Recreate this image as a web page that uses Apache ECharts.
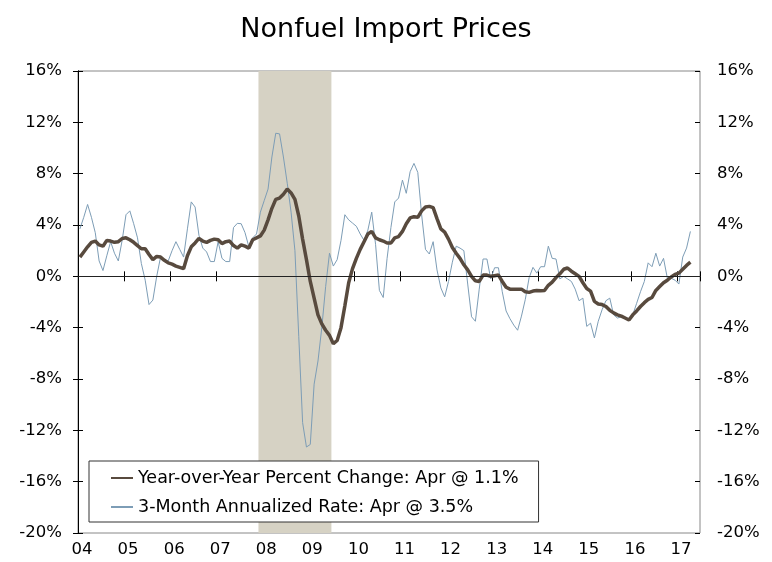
<!DOCTYPE html>
<html>
<head>
<meta charset="utf-8">
<title>Nonfuel Import Prices</title>
<script src="https://cdn.jsdelivr.net/npm/echarts@6/dist/echarts.min.js"></script>
<style>
  html, body { margin: 0; padding: 0; background: #fff; }
  #chart { width: 772px; height: 562px; }
</style>
</head>
<body>
<div id="chart"></div>
<script>
// monthly, Jan 2004 .. Apr 2017
const yoyChange = [
  1.5, 1.9, 2.3, 2.65, 2.75, 2.45, 2.35, 2.8, 2.75, 2.65, 2.7, 2.95,
  3.0, 2.85, 2.65, 2.4, 2.15, 2.15, 1.7, 1.3, 1.55, 1.5, 1.25, 1.05,
  0.95, 0.8, 0.7, 0.6, 1.6, 2.3, 2.6, 2.95, 2.75, 2.65, 2.8, 2.9,
  2.85, 2.55, 2.7, 2.75, 2.4, 2.2, 2.45, 2.35, 2.2, 2.85, 3.0, 3.15,
  3.6, 4.4, 5.3, 6.0, 6.1, 6.4, 6.8, 6.5, 6.0, 4.7, 2.9, 1.3,
  -0.4, -1.7, -3.0, -3.7, -4.2, -4.6, -5.25, -5.0, -4.0, -2.3, -0.5, 0.6,
  1.4, 2.1, 2.7, 3.3, 3.5, 3.0, 2.85, 2.75, 2.6, 2.6, 3.0, 3.1,
  3.5, 4.1, 4.55, 4.65, 4.6, 5.1, 5.4, 5.45, 5.35, 4.5, 3.7, 3.45,
  2.9, 2.25, 1.8, 1.4, 0.9, 0.5, 0.0, -0.35, -0.4, 0.1, 0.1, 0.0,
  0.05, 0.1, -0.4, -0.85, -1.0, -1.0, -1.0, -1.0, -1.2, -1.25, -1.15, -1.1,
  -1.12, -1.1, -0.7, -0.45, -0.1, 0.2, 0.55, 0.65, 0.4, 0.2, 0.0, -0.5,
  -0.95, -1.15, -1.95, -2.15, -2.2, -2.35, -2.65, -2.85, -3.0, -3.1, -3.25, -3.4,
  -3.0, -2.7, -2.35, -2.05, -1.8, -1.65, -1.1, -0.8, -0.5, -0.3, -0.05, 0.15,
  0.25, 0.55, 0.85, 1.1
];

const threeMonthRate = [
  3.7, 4.6, 5.6, 4.6, 3.4, 1.2, 0.45, 1.6, 2.7, 1.8, 1.2, 2.8,
  4.8, 5.1, 4.1, 3.0, 1.0, -0.3, -2.2, -1.85, 0.0, 1.5, 1.3, 1.2,
  2.0, 2.7, 2.1, 1.5, 3.7, 5.8, 5.4, 3.2, 2.2, 1.9, 1.15, 1.15,
  2.7, 1.4, 1.15, 1.15, 3.8, 4.13, 4.1, 3.4, 2.3, 3.0, 3.3, 5.0,
  5.9, 6.8, 9.3, 11.15, 11.1, 9.3, 7.25, 5.0, 2.0, -4.7, -11.4, -13.3,
  -13.1, -8.4, -6.6, -4.0, -0.8, 1.8, 0.8, 1.3, 2.8, 4.8, 4.4, 4.15,
  3.9, 3.3, 2.8, 3.6, 5.0, 2.5, -1.1, -1.65, 1.4, 3.8, 5.8, 6.1,
  7.5, 6.47, 8.15, 8.8, 8.1, 4.8, 2.1, 1.74, 2.7, 0.5, -0.9, -1.6,
  -0.4, 1.1, 2.35, 2.2, 2.0, -0.6, -3.15, -3.5, -1.0, 1.35, 1.35, -0.2,
  0.67, 0.67, -1.2, -2.7, -3.3, -3.8, -4.2, -3.1, -1.8, -0.1, 0.7, 0.25,
  0.75, 0.75, 2.35, 1.4, 1.35, -0.2, 0.0, -0.2, -0.4, -1.0, -1.9, -1.7,
  -3.9, -3.65, -4.8, -3.5, -2.6, -1.9, -1.7, -3.0, -3.25, -3.15, -3.2, -3.4,
  -3.0, -2.1, -1.2, -0.4, 1.05, 0.75, 1.8, 0.8, 1.4, -0.15, -0.15, -0.3,
  -0.6, 1.5, 2.2, 3.5
];

const yearLabels = ["04", "05", "06", "07", "08", "09", "10", "11", "12", "13", "14", "15", "16", "17"];
const recessionStart = "2007-12";
const recessionEnd = "2009-06";
const seriesNames = [
  "Year-over-Year Percent Change: Apr @ 1.1%",
  "3-Month Annualized Rate: Apr @ 3.5%"
];

// axis runs Jan 2004 .. Jun 2017
const months = [];
for (let y = 2004; y <= 2017; y++) {
  for (let m = 1; m <= 12; m++) {
    if (y === 2017 && m > 6) break;
    months.push(y + "-" + String(m).padStart(2, "0"));
  }
}
const nMonths = months.length;
const recFrom = months.indexOf(recessionStart);
const recTo = months.indexOf(recessionEnd) + 1;

const FONT = "DejaVu Sans";
const chart = echarts.init(document.getElementById("chart"));

const yBase = {
  type: "value",
  min: -20,
  max: 16,
  interval: 4,
  splitLine: { show: false }
};

chart.setOption({
  animation: false,
  backgroundColor: "#fff",
  title: {
    text: "Nonfuel Import Prices",
    left: "center",
    top: 11,
    textStyle: { fontFamily: FONT, fontSize: 27, fontWeight: "normal", color: "#000" }
  },
  legend: {
    orient: "vertical",
    left: 89,
    top: 461,
    data: seriesNames.map((name) => ({ name, itemStyle: { opacity: 0 } })),
    backgroundColor: "#fff",
    borderColor: "#333",
    borderWidth: 1,
    padding: [8, 20, 6, 21],
    itemWidth: 22,
    itemHeight: 18,
    itemGap: 11,
    textStyle: { fontFamily: FONT, fontSize: 17.5, color: "#000" }
  },
  grid: {
    left: 78,
    right: 72,
    top: 71,
    bottom: 29,
    show: true,
    borderColor: "#888",
    borderWidth: 1
  },
  xAxis: [
    {
      type: "category",
      data: months,
      boundaryGap: true,
      show: false
    },
    {
      type: "value",
      position: "bottom",
      min: 0,
      max: nMonths,
      interval: 12,
      axisLine: { show: true, lineStyle: { color: "#000", width: 1 } },
      axisTick: { show: true, length: 5, lineStyle: { color: "#000" } },
      axisLabel: {
        margin: 8,
        padding: [0, 0, 0, 8],
        fontFamily: FONT,
        fontSize: 16.5,
        color: "#000",
        formatter: (v) => (v % 12 === 0 && yearLabels[v / 12]) ? yearLabels[v / 12] : ""
      },
      splitLine: { show: false }
    },
    {
      type: "value",
      position: "bottom",
      min: 0,
      max: nMonths,
      interval: 12,
      axisLine: { show: false },
      axisTick: { show: true, inside: true, length: 5, lineStyle: { color: "#000" } },
      axisLabel: { show: false },
      splitLine: { show: false }
    }
  ],
  yAxis: [
    Object.assign({}, yBase, {
      position: "left",
      axisLine: { show: true, lineStyle: { color: "#000", width: 1 } },
      axisTick: { show: true, length: 5, lineStyle: { color: "#000" } },
      axisLabel: { margin: 16, fontFamily: FONT, fontSize: 16.5, color: "#000", formatter: "{value}%" }
    }),
    Object.assign({}, yBase, {
      position: "right",
      axisLine: { show: true, lineStyle: { color: "#000", width: 1 } },
      axisTick: { show: true, length: 5, lineStyle: { color: "#000" } },
      axisLabel: { margin: 17, fontFamily: FONT, fontSize: 16.5, color: "#000", formatter: "{value}%" }
    }),
    Object.assign({}, yBase, {
      position: "left",
      axisLine: { show: false },
      axisTick: { show: true, inside: true, length: 5, lineStyle: { color: "#000" } },
      axisLabel: { show: false }
    }),
    Object.assign({}, yBase, {
      position: "right",
      axisLine: { show: false },
      axisTick: { show: true, inside: true, length: 5, lineStyle: { color: "#000" } },
      axisLabel: { show: false }
    })
  ],
  series: [
    {
      name: "recession",
      type: "line",
      xAxisIndex: 1,
      yAxisIndex: 0,
      data: [],
      silent: true,
      z: 1,
      markArea: {
        silent: true,
        itemStyle: { color: "#d6d2c4" },
        data: [[{ xAxis: recFrom }, { xAxis: recTo }]]
      }
    },
    {
      name: seriesNames[1],
      type: "line",
      xAxisIndex: 0,
      yAxisIndex: 0,
      data: threeMonthRate,
      symbol: "none",
      z: 3,
      lineStyle: { color: "#7d9db6", width: 1 },
      itemStyle: { color: "#7d9db6" },
      markLine: {
        silent: true,
        symbol: "none",
        label: { show: false },
        lineStyle: { color: "#222", width: 1, type: "solid" },
        data: [{ yAxis: 0 }]
      }
    },
    {
      name: seriesNames[0],
      type: "line",
      xAxisIndex: 0,
      yAxisIndex: 0,
      data: yoyChange,
      symbol: "none",
      z: 4,
      lineStyle: { color: "#584a3e", width: 3.5 },
      itemStyle: { color: "#584a3e" }
    }
  ]
});
</script>
</body>
</html>
